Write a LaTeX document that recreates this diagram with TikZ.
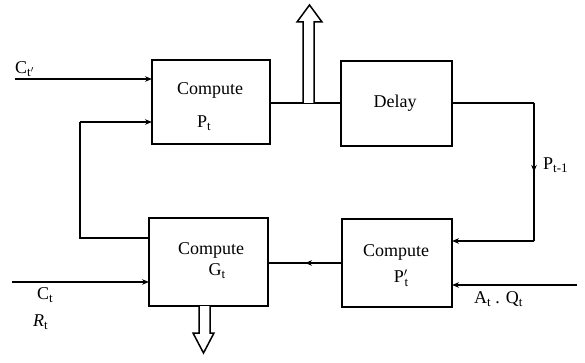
\documentclass[tikz,border=0pt]{standalone}
\usepackage{fontspec}
\setmainfont{Liberation Serif}
\usetikzlibrary{arrows.meta,decorations.markings}
\newcommand\lo[1]{\raisebox{-0.4ex}{\fontsize{13}{13}\selectfont #1}}
\begin{document}
\begin{tikzpicture}[x=1pt,y=-1pt,
  blk/.style={draw,line width=1.7pt,inner sep=0pt,outer sep=0pt},
  wire/.style={line width=1.5pt},
  arr/.style={wire,-{Stealth[length=7pt,width=5.5pt]}},
  midarr/.style={wire,postaction={decorate},decoration={markings,mark=at position 0.5 with {\arrow{Stealth[length=7pt,width=5.5pt]}}}},
  big/.style={font=\fontsize{18}{20}\selectfont,inner sep=0pt},
  lab/.style={font=\fontsize{18}{20}\selectfont,inner sep=0pt},
  hollow/.style={draw,line width=1.5pt,fill=white,line join=miter}]
\useasboundingbox[fill=white] (0,0) rectangle (585,363);
% blocks
\node[blk,minimum width=118pt,minimum height=84pt] (P) at (211,102) {};
\node[blk,minimum width=111pt,minimum height=85pt] (D) at (396.5,103.5) {};
\node[blk,minimum width=119pt,minimum height=88pt] (G) at (208.5,262) {};
\node[blk,minimum width=110pt,minimum height=88pt] (Q) at (397,263) {};
% block texts
\node[big] (tP1) at (210,90) {Compute};
\node[lab] (tP2) at (204,123) {P\lo{t}};
\node[big] (tD) at (395,103) {Delay};
\node[big] (tG1) at (211,250) {Compute};
\node[lab] (tG2) at (217,271) {G\lo{t}};
\node[big] (tQ1) at (396,252) {Compute};
\node[lab] (tQ2) at (401,278) {P$'$\!\lo{t}};
% free ends and corners
\coordinate (cin) at (15,79);
\coordinate (fbA) at (80,238);
\coordinate (fbB) at (80,122);
\coordinate (dA) at (534,103);
\coordinate (dB) at (534,241);
\coordinate (aq) at (577,285);
\coordinate (ct) at (12,282);
% connectors
\draw[arr] (cin) -- (cin -| P.west);
\draw[wire] (G.west |- fbA) -- (fbA) -- (fbB);
\draw[arr] (fbB) -- (P.west |- fbB);
\draw[wire] (P.east |- dA) -- (D.west |- dA);
\draw[wire] (D.east |- dA) -- (dA);
\draw[midarr] (dA) -- (dB);
\draw[arr] (dB) -- (Q.east |- dB);
\draw[arr] (aq) -- (Q.east |- aq);
\draw[midarr] (Q.west |- 0,263) -- (G.east |- 0,263);
\draw[arr] (ct) -- (G.west |- ct);
% hollow arrows
\draw[hollow] (303,103) -- (303,22) -- (297,22) -- (309.5,5) -- (322,22) -- (314,22) -- (314,103);
\draw[hollow] (199,306) -- (199,333) -- (193,333) -- (203.5,353) -- (214,333) -- (210,333) -- (210,306);
% labels
\node[lab,anchor=west] (lC1) at (15,69) {C\lo{t$'$}};
\node[lab,anchor=west] (lP) at (543,165) {P\lo{t-1}};
\node[lab,anchor=west] (lC) at (37,295) {C\lo{t}};
\node[lab,anchor=west] (lR) at (33,322) {\itshape R\lo{\upshape t}};
\node[lab,anchor=west] (lAQ) at (474,299) {A\lo{t} . Q\lo{t}};
\end{tikzpicture}
\end{document}
